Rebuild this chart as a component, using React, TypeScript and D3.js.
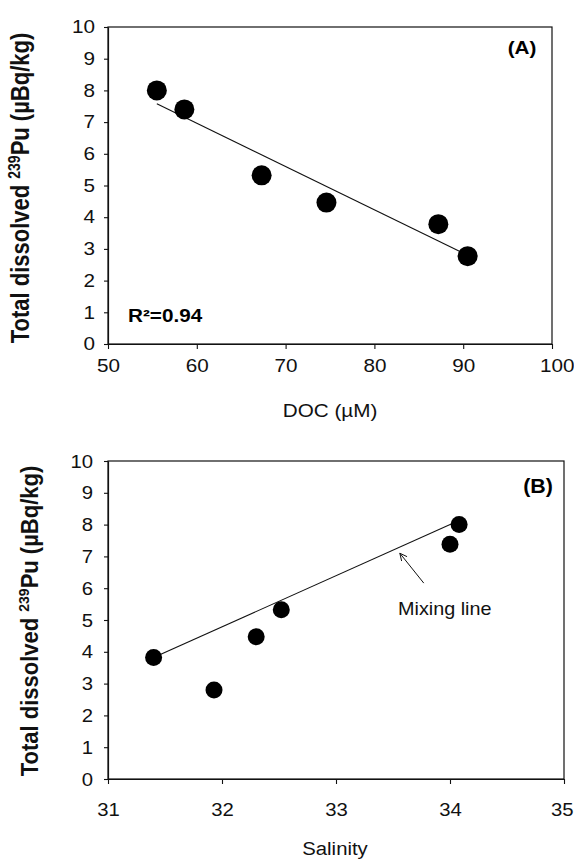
import React, { useRef, useEffect } from 'react';
import * as d3 from 'd3';

// Panel A: Pu vs DOC
const docValues = [55.5, 58.6, 67.3, 74.6, 87.2, 90.5];
const puVsDoc = [8.0, 7.4, 5.32, 4.46, 3.78, 2.77];
const docFitX = [55.5, 90.5];
const docFitY = [7.58, 2.8];
const docTicks = [50, 60, 70, 80, 90, 100];

// Panel B: Pu vs salinity
const salinityValues = [31.4, 31.93, 32.3, 32.52, 34.0, 34.08];
const puVsSalinity = [3.82, 2.8, 4.47, 5.32, 7.38, 8.0];
const mixX = [31.4, 34.05];
const mixY = [3.82, 8.08];
const arrowX = [33.77, 33.56];
const arrowY = [6.16, 7.1];
const salinityTicks = [31, 32, 33, 34, 35];

const puTicks = [0, 1, 2, 3, 4, 5, 6, 7, 8, 9, 10];

const FONT = 'Liberation Sans, Arial, Helvetica, sans-serif';

function App() {
  const ref = useRef(null);

  useEffect(() => {
    const svg = d3.select(ref.current);
    svg.selectAll('*').remove();

    const drawPanel = (cfg) => {
      const x = d3.scaleLinear().domain(cfg.xDomain).range([cfg.left, cfg.right]);
      const y = d3.scaleLinear().domain([0, 10]).range([cfg.bottom, cfg.top]);
      const g = svg.append('g');

      // frame (top + right)
      g.append('rect')
        .attr('x', cfg.left).attr('y', cfg.top)
        .attr('width', cfg.right - cfg.left).attr('height', cfg.bottom - cfg.top)
        .attr('fill', 'none').attr('stroke', '#111').attr('stroke-width', 1.2);

      const xa = g.append('g')
        .attr('transform', `translate(0,${cfg.bottom})`)
        .call(d3.axisBottom(x).tickValues(cfg.xTicks).tickSize(5).tickSizeOuter(0).tickFormat(d3.format('d')));
      xa.selectAll('text')
        .attr('font-family', FONT).attr('font-size', cfg.tickFont).attr('fill', '#111')
        .attr('dy', null).attr('y', cfg.xLabelBase)
        .attr('transform', `scale(${cfg.sx},1)`);
      // keep the last label inside the page
      xa.selectAll('.tick:last-of-type text').attr('text-anchor', 'end').attr('x', cfg.lastLabelEnd / cfg.sx);

      const ya = g.append('g')
        .attr('transform', `translate(${cfg.left},0)`)
        .call(d3.axisLeft(y).tickValues(puTicks).tickSize(4).tickSizeOuter(0));
      ya.selectAll('text')
        .attr('font-family', FONT).attr('font-size', cfg.tickFont).attr('fill', '#111')
        .attr('x', -cfg.yLabelGap / cfg.sx)
        .attr('transform', `scale(${cfg.sx},1)`);

      [xa, ya].forEach(a => {
        a.select('.domain').attr('stroke', '#111').attr('stroke-width', 1.2);
        a.selectAll('.tick line').attr('stroke', '#111').attr('stroke-width', 1.1);
      });

      // fitted / mixing line
      const line = d3.line().x(d => x(d[0])).y(d => y(d[1]));
      g.append('path')
        .datum(d3.zip(cfg.lineX, cfg.lineY))
        .attr('d', line)
        .attr('fill', 'none').attr('stroke', '#111').attr('stroke-width', 1.1);

      g.selectAll('circle.pt')
        .data(d3.zip(cfg.xs, cfg.ys))
        .join('circle')
        .attr('class', 'pt')
        .attr('cx', d => x(d[0])).attr('cy', d => y(d[1]))
        .attr('r', cfg.r).attr('fill', '#000');

      // panel tag
      g.append('text')
        .attr('transform', `translate(${cfg.tag[0]},${cfg.tag[1]}) scale(${cfg.sx},1)`)
        .attr('text-anchor', 'middle')
        .attr('font-family', FONT).attr('font-weight', 'bold').attr('font-size', cfg.tagFont)
        .text(cfg.tagText);

      // x axis title
      g.append('text')
        .attr('transform', `translate(${cfg.xTitle[0]},${cfg.xTitle[1]}) scale(${cfg.sx},1)`)
        .attr('text-anchor', 'middle')
        .attr('font-family', FONT).attr('font-size', cfg.titleFont).attr('fill', '#111')
        .text(cfg.xTitleText);

      // y axis title
      const yt = g.append('text')
        .attr('transform', `translate(${cfg.yTitle[0]},${cfg.yTitle[1]}) scale(${cfg.sx},1) rotate(-90)`)
        .attr('text-anchor', 'middle')
        .attr('font-family', FONT).attr('font-weight', 'bold').attr('font-size', 22).attr('fill', '#111');
      yt.append('tspan').text('Total dissolved ');
      yt.append('tspan').attr('font-size', 14).attr('dy', -8).text('239');
      yt.append('tspan').attr('dy', 8).text('Pu');
      yt.append('tspan').text(' (\u00b5Bq/kg)');

      return { x, y, g };
    };

    drawPanel({
      xDomain: [50, 100], xTicks: docTicks,
      left: 108, right: 552, top: 27, bottom: 344,
      sx: 1.15, tickFont: 18, titleFont: 18, tagFont: 18,
      xLabelBase: 28, yLabelGap: 13, lastLabelEnd: 22,
      xs: docValues, ys: puVsDoc, r: 10,
      lineX: docFitX, lineY: docFitY,
      tag: [522, 54], tagText: '(A)',
      xTitle: [330, 417], xTitleText: 'DOC (\u00b5M)',
      yTitle: [29, 188],
    }).g.append('text')
      .attr('transform', 'translate(128,322) scale(1.15,1)')
      .attr('font-family', FONT).attr('font-weight', 'bold').attr('font-size', 18)
      .text('R\u00b2=0.94');

    const b = drawPanel({
      xDomain: [31, 35], xTicks: salinityTicks,
      left: 108, right: 564, top: 461, bottom: 779,
      sx: 1.07, tickFont: 19, titleFont: 19, tagFont: 20,
      xLabelBase: 37, yLabelGap: 15, lastLabelEnd: 9,
      xs: salinityValues, ys: puVsSalinity, r: 8.5,
      lineX: mixX, lineY: mixY,
      tag: [538, 493], tagText: '(B)',
      xTitle: [335, 855], xTitleText: 'Salinity',
      yTitle: [38, 621],
    });

    // mixing line annotation arrow
    const tail = [b.x(arrowX[0]), b.y(arrowY[0])];
    const head = [b.x(arrowX[1]), b.y(arrowY[1])];
    const ang = Math.atan2(tail[1] - head[1], tail[0] - head[0]);
    const hl = 8, spread = 0.45;
    b.g.append('path')
      .attr('d', `M${tail[0]},${tail[1]}L${head[0]},${head[1]}` +
        `M${head[0] + hl * Math.cos(ang - spread)},${head[1] + hl * Math.sin(ang - spread)}` +
        `L${head[0]},${head[1]}` +
        `L${head[0] + hl * Math.cos(ang + spread)},${head[1] + hl * Math.sin(ang + spread)}`)
      .attr('fill', 'none').attr('stroke', '#111').attr('stroke-width', 1);
    b.g.append('text')
      .attr('transform', 'translate(398,615) scale(1.1,1)')
      .attr('font-family', FONT).attr('font-size', 18).attr('fill', '#111')
      .text('Mixing line');
  }, []);

  return (
    <svg ref={ref} width={574} height={862}
      style={{ position: 'absolute', left: 0, top: 0, background: '#fff' }} />
  );
}

export default App;
